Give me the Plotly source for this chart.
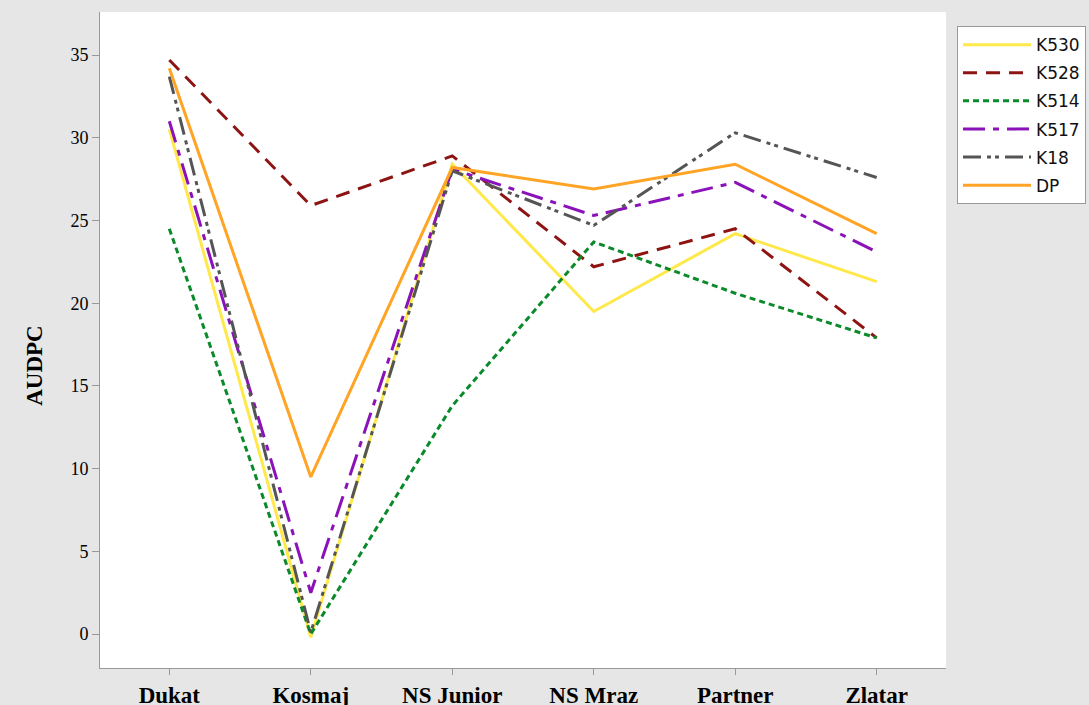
import plotly.graph_objects as go

categories = ["Dukat", "Kosmaj", "NS Junior", "NS Mraz", "Partner", "Zlatar"]
k530 = [30.5, -0.2, 28.4, 19.5, 24.2, 21.3]
k528 = [34.7, 25.9, 28.9, 22.2, 24.5, 17.9]
k514 = [24.5, 0.0, 13.8, 23.7, 20.6, 17.9]
k517 = [31.0, 2.5, 28.1, 25.3, 27.3, 23.1]
k18 = [33.7, 0.1, 28.0, 24.7, 30.3, 27.6]
dp = [34.2, 9.5, 28.2, 26.9, 28.4, 24.2]
y_ticks = [0, 5, 10, 15, 20, 25, 30, 35]

series = [
    ("K530", k530, "#FFE84A", "solid"),
    ("K528", k528, "#8E1414", "14px,9px"),
    ("K514", k514, "#0A8A2A", "6px,4px"),
    ("K517", k517, "#8A12B8", "22px,8px,6px,8px"),
    ("K18", k18, "#555555", "18px,6px,4px,4px,4px,6px"),
    ("DP", dp, "#FFA424", "solid"),
]

fig = go.Figure()
for name, vals, color, dash in series:
    fig.add_trace(go.Scatter(
        x=list(range(len(categories))), y=vals, name=name, mode="lines",
        legendgroup=name,
        line=dict(color=color, width=3, dash=dash),
    ))

fig.add_annotation(
    text="<b>AUDPC</b>", xref="paper", yref="paper", x=-0.077, y=0.462,
    textangle=-90, showarrow=False, xanchor="center", yanchor="middle",
    font=dict(family="Liberation Serif", size=23, color="black"),
)

fig.update_layout(
    width=1089, height=705,
    paper_bgcolor="#E6E6E6", plot_bgcolor="white",
    margin=dict(l=100, r=143, t=12, b=37),
    showlegend=True,
    legend=dict(
        xref="container", yref="container",
        x=0.8788, y=0.963, xanchor="left", yanchor="top",
        bgcolor="white", bordercolor="#999999", borderwidth=1,
        font=dict(family="DejaVu Sans", size=17, color="#111111"),
        tracegroupgap=3, itemwidth=68,
    ),
    xaxis=dict(
        range=[-0.49, 5.49], tickmode="array",
        tickvals=list(range(len(categories))),
        ticktext=["<b>%s</b>" % c for c in categories],
        ticks="outside", ticklen=6, tickcolor="#999999",
        showline=True, linecolor="#999999", linewidth=1,
        showgrid=False, zeroline=False, automargin=False,
        tickfont=dict(family="Liberation Serif", size=23, color="black"),
    ),
    yaxis=dict(
        range=[-2.05, 37.6], tickmode="array", tickvals=y_ticks,
        ticktext=[str(v) for v in y_ticks],
        ticks="outside", ticklen=7, tickcolor="#999999",
        showline=True, linecolor="#999999", linewidth=1,
        showgrid=False, zeroline=False, automargin=False,
        tickfont=dict(family="Liberation Serif", size=18, color="black"),
    ),
)

fig.write_html(
    "out.html",
    config={"displayModeBar": False},
    post_script="document.body.style.margin='0';document.body.style.background='#E6E6E6';",
)
